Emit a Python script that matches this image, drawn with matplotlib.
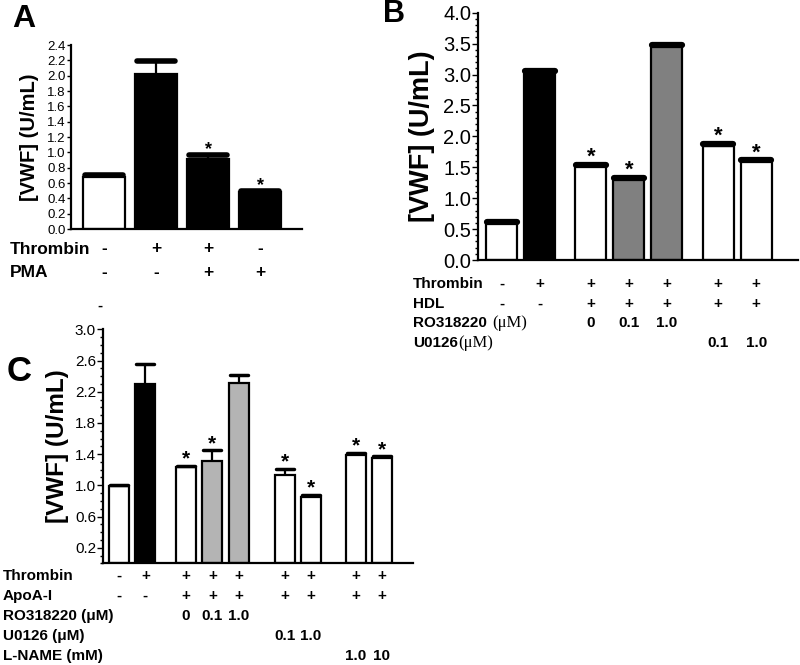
import matplotlib
matplotlib.use("Agg")
import matplotlib.pyplot as plt
from matplotlib.ticker import MultipleLocator, FixedLocator, FormatStrFormatter
from matplotlib.transforms import blended_transform_factory

plt.rcParams['font.family'] = ['Liberation Sans', 'DejaVu Sans']

# ---- data ----
# panel A
a_vals = [0.68, 2.02, 0.91, 0.48]
a_err = [0.03, 0.17, 0.05, 0.01]
a_sig = [False, False, True, True]
a_rows = ["Thrombin", "PMA"]
a_row_marks = [["-", "+", "+", "-"],
               ["-", "-", "+", "+"]]

# panel B
b_vals = [0.60, 3.05, 1.52, 1.32, 3.47, 1.85, 1.60]
b_err = [0.01, 0.01, 0.01, 0.01, 0.01, 0.02, 0.01]
b_sig = [False, False, True, True, False, True, True]
b_rows = ["Thrombin", "HDL", "RO318220", "U0126"]
b_units = [None, None, "(\u03bcM)", "(\u03bcM)"]
b_row_marks = [["-", "+", "+", "+", "+", "+", "+"],
               ["-", "-", "+", "+", "+", "+", "+"],
               ["", "", "0", "0.1", "1.0", "", ""],
               ["", "", "", "", "", "0.1", "1.0"]]

# panel C
c_vals = [0.99, 2.30, 1.23, 1.31, 2.31, 1.13, 0.85, 1.39, 1.35]
c_err = [0.01, 0.26, 0.02, 0.14, 0.10, 0.08, 0.03, 0.03, 0.02]
c_sig = [False, False, True, True, False, True, True, True, True]
c_rows = ["Thrombin", "ApoA-I", "RO318220 (\u03bcM)", "U0126 (\u03bcM)", "L-NAME (mM)"]
c_row_marks = [["-", "+", "+", "+", "+", "+", "+", "+", "+"],
               ["-", "-", "+", "+", "+", "+", "+", "+", "+"],
               ["", "", "0", "0.1", "1.0", "", "", "", ""],
               ["", "", "", "", "", "0.1", "1.0", "", ""],
               ["", "", "", "", "", "", "", "1.0", "10"]]

# ---- layout / styles ----
a_pos = [0, 1, 2, 3]
b_pos = [0, 1, 2.35, 3.35, 4.35, 5.7, 6.7]
c_pos = [0, 1, 2.55, 3.55, 4.55, 6.3, 7.3, 9, 10]
a_col = ["white", "black", "black", "black"]
b_col = ["white", "black", "white", "#808080", "#808080", "white", "white"]
c_col = ["white", "black", "white", "#b4b4b4", "#b4b4b4", "white", "white", "white", "white"]

W, H = 800, 665
fig = plt.figure(figsize=(8, 6.65), dpi=100)


def px_axes(l, t, r, b):
    return fig.add_axes([l / W, 1 - b / H, (r - l) / W, (b - t) / H])


def draw_bars(ax, pos, vals, errs, cols, sig, width, lw, caplw, capw, starsize):
    ax.bar(pos, vals, width=width, color=cols, edgecolor="black", linewidth=lw, zorder=2)
    tops = [v + e for v, e in zip(vals, errs)]
    ax.vlines(pos, vals, tops, color="black", linewidth=lw, zorder=3)
    ax.hlines(tops, [p - width * capw for p in pos], [p + width * capw for p in pos],
              color="black", linewidth=caplw, zorder=3, capstyle="round")
    for p, t, s in zip(pos, tops, sig):
        if s:
            ax.annotate("*", (p, t), xytext=(0, -2), textcoords="offset points",
                        ha="center", va="bottom", fontsize=starsize, fontweight="bold")
    for s in ["top", "right"]:
        ax.spines[s].set_visible(False)
    ax.spines["left"].set_linewidth(1.6)
    ax.spines["bottom"].set_linewidth(1.6)
    ax.set_xticks([])


def draw_rows(ax, pos, rows, marks, label_x, ys, size):
    tr = blended_transform_factory(ax.transData, fig.transFigure)
    labels = []
    for name, mk, y in zip(rows, marks, ys):
        labels.append(fig.text(label_x / W, 1 - y / H, name, ha="left", va="center",
                               fontsize=size, fontweight="bold"))
        for p, m in zip(pos, mk):
            if m:
                fig.text(p, 1 - y / H, m, transform=tr, ha="center", va="center",
                         fontsize=size, fontweight="bold")
    return labels


# ---- panel A ----
axA = px_axes(71, 45, 302, 229)
draw_bars(axA, a_pos, a_vals, a_err, a_col, a_sig, 0.81, 1.6, 4, 0.45, 13)
axA.set_xlim(-0.64, 3.8)
axA.set_ylim(0, 2.4)
axA.yaxis.set_major_locator(MultipleLocator(0.2))
axA.yaxis.set_major_formatter(FormatStrFormatter("%.1f"))
axA.tick_params(axis="y", direction="out", length=3, width=1, pad=1, labelsize=9.5)
for lab in axA.get_yticklabels():
    lab.set_family(["Liberation Sans Narrow", "Liberation Sans"])
axA.set_ylabel("[VWF] (U/mL)", fontsize=14.5, fontweight="bold", labelpad=6)
fig.text(12 / W, 1 - 19 / H, "A", fontsize=23, fontweight="bold", va="center")
draw_rows(axA, a_pos, a_rows, a_row_marks, 10, [249, 273], 12.5)

# ---- panel B ----
axB = px_axes(478, 12.7, 798, 260)
draw_bars(axB, b_pos, b_vals, b_err, b_col, b_sig, 0.82, 1.6, 4.5, 0.48, 16)
axB.set_xlim(-0.62, 7.8)
axB.set_ylim(0, 4.0)
axB.yaxis.set_major_locator(MultipleLocator(0.5))
axB.yaxis.set_minor_locator(MultipleLocator(0.1))
axB.yaxis.set_major_formatter(FormatStrFormatter("%.1f"))
axB.tick_params(axis="y", which="major", direction="out", length=4, width=1, pad=1, labelsize=14.5)
axB.tick_params(axis="y", which="minor", direction="out", length=2.5, width=1)
axB.set_ylabel("[VWF] (U/mL)", fontsize=19.5, fontweight="bold", labelpad=6)
fig.text(383 / W, 1 - 14 / H, "B", fontsize=22, fontweight="bold", va="center")
b_labels = draw_rows(axB, b_pos, b_rows, b_row_marks, 413, [284, 304, 323, 343], 11)
# serif micro-molar units right after the bold names
gaps = [None, None, 4, 0.5]
for lab, unit, gap in zip(b_labels, b_units, gaps):
    if unit:
        fig.add_artist(matplotlib.text.Annotation(
            unit, xy=(1, 0.5), xycoords=lab, xytext=(gap, 0), textcoords="offset points",
            ha="left", va="center", fontsize=12, family=["Liberation Serif", "DejaVu Serif"]))

# ---- panel C ----
axC = px_axes(103, 329.3, 413, 563.3)
draw_bars(axC, c_pos, c_vals, c_err, c_col, c_sig, 0.76, 1.6, 2.5, 0.45, 15)
axC.set_xlim(-0.61, 11.18)
axC.set_ylim(0, 3.0)
axC.yaxis.set_major_locator(FixedLocator([0.2, 0.6, 1.0, 1.4, 1.8, 2.2, 2.6, 3.0]))
axC.yaxis.set_minor_locator(MultipleLocator(0.1))
axC.yaxis.set_major_formatter(FormatStrFormatter("%.1f"))
axC.tick_params(axis="y", which="major", direction="out", length=4, width=1, pad=1, labelsize=11)
axC.tick_params(axis="y", which="minor", direction="out", length=2.5, width=1)
axC.set_ylabel("[VWF] (U/mL)", fontsize=17.5, fontweight="bold", labelpad=4)
fig.text(7 / W, 1 - 372 / H, "C", fontsize=25, fontweight="bold", va="center")
draw_rows(axC, c_pos, c_rows, c_row_marks, 3, [576, 596, 616, 636, 656], 11)

# stray dash between panels
fig.text(100 / W, 1 - 306 / H, "-", ha="center", va="center", fontsize=11, fontweight="bold")

fig.savefig("out.png", dpi=100, facecolor="white")
